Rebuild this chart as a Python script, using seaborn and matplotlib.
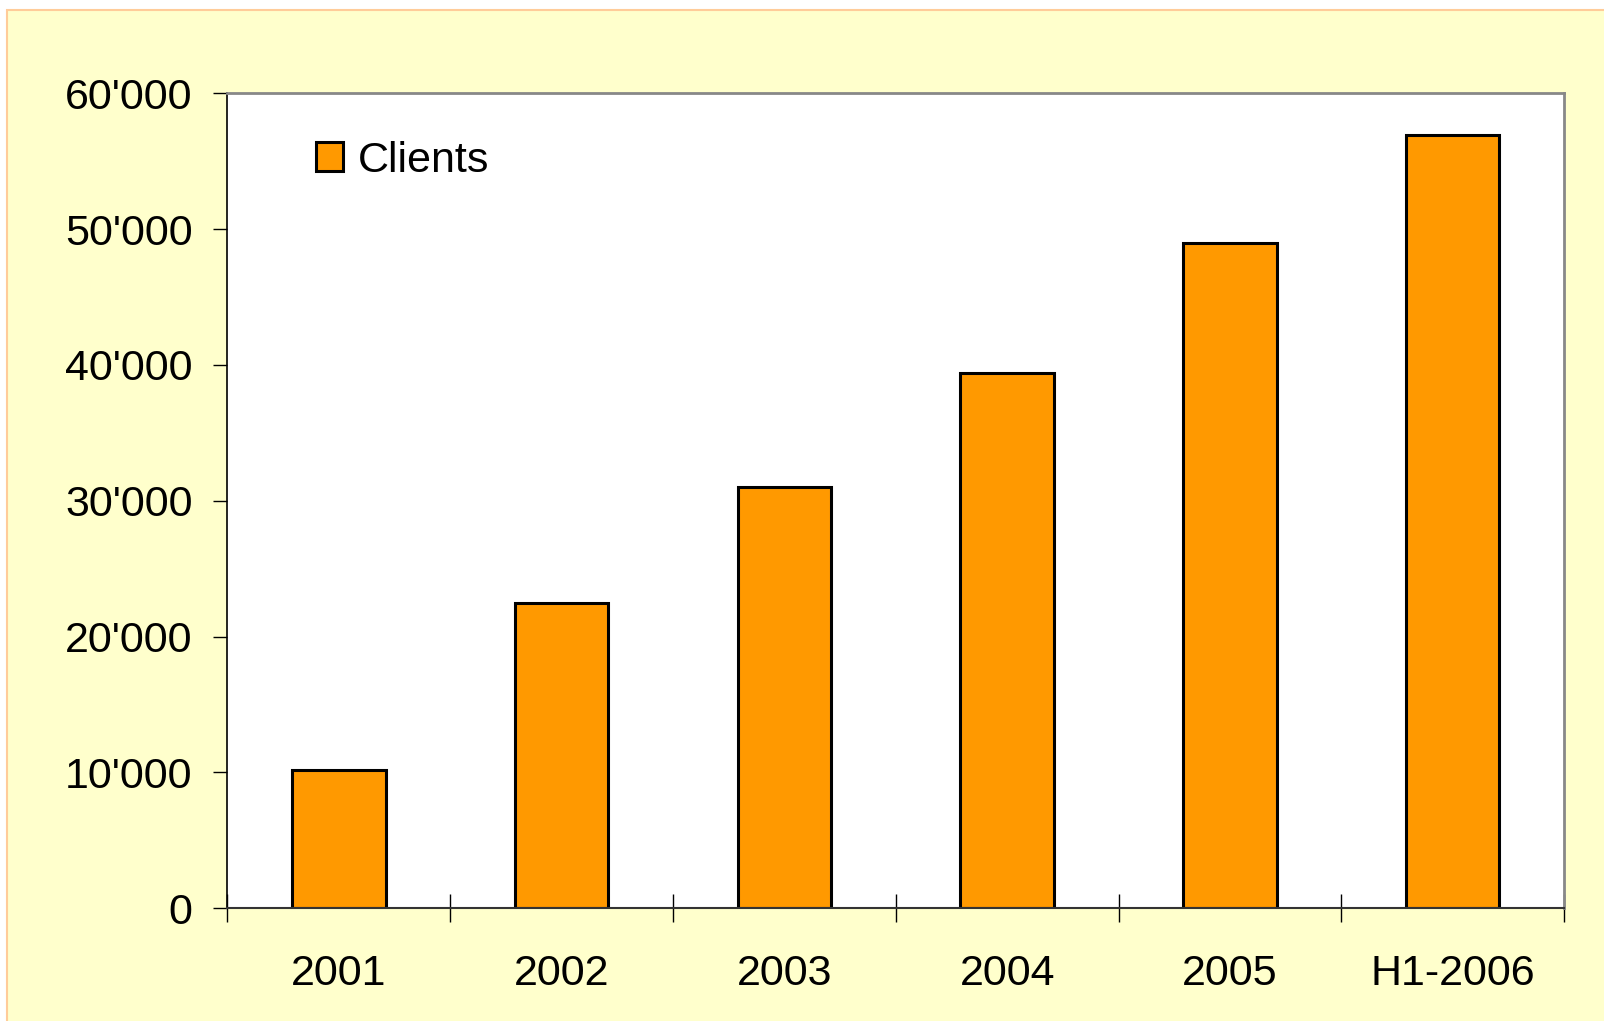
import matplotlib
matplotlib.use("Agg")
import matplotlib.pyplot as plt
from matplotlib.patches import Rectangle
import seaborn as sns
import pandas as pd

# data
categories = ["2001", "2002", "2003", "2004", "2005", "H1-2006"]
clients = [10200, 22500, 31000, 39400, 49000, 56900]
ytick_values = [0, 10000, 20000, 30000, 40000, 50000, 60000]
ytick_labels = ["0", "10'000", "20'000", "30'000", "40'000", "50'000", "60'000"]
series_name = "Clients"

sns.set_style("white")
plt.rcParams["font.family"] = ["Liberation Sans", "DejaVu Sans"]
plt.rcParams["text.color"] = "black"
plt.rcParams["xtick.color"] = "black"
plt.rcParams["ytick.color"] = "black"

df = pd.DataFrame({"annee": categories, "clients": clients})

fig = plt.figure(figsize=(16.04, 10.21), dpi=100, facecolor="white")
# yellow slide background with thin orange frame
fig.patches.append(Rectangle((6.5 / 1604, -0.02), 1.05, 1 - 9.5 / 1021 + 0.02,
                             transform=fig.transFigure, facecolor="#FFFFCC",
                             edgecolor="#FFCC99", linewidth=1.5, zorder=-10))

ax = fig.add_axes([0.1418, 0.1104, 0.8333, 0.7982])
ax.set_facecolor("white")

sns.barplot(data=df, x="annee", y="clients", color="#FF9900", saturation=1,
            edgecolor="black", linewidth=2.2, width=0.42, ax=ax)

ax.set_ylim(0, 60000)
ax.set_xlim(-0.5, len(categories) - 0.5)
ax.set_xlabel("")
ax.set_ylabel("")

ax.set_yticks(ytick_values)
ax.set_yticklabels(ytick_labels)
ax.tick_params(axis="y", direction="out", length=10, width=1, colors="black",
               labelsize=31, pad=15, left=True)

# ticks between categories, labels centered under bars
ax.set_xticks([i - 0.5 for i in range(len(categories) + 1)])
ax.set_xticklabels([])
ax.set_xticks(range(len(categories)), minor=True)
ax.set_xticklabels(categories, minor=True)
ax.tick_params(axis="x", which="major", direction="inout", length=20, width=1,
               colors="black", bottom=True)
ax.tick_params(axis="x", which="minor", length=0, labelsize=31, pad=33,
               labelcolor="black")

for side in ["top", "right"]:
    ax.spines[side].set_color("#888888")
    ax.spines[side].set_linewidth(2)
ax.spines["left"].set_color("black")
ax.spines["left"].set_linewidth(1.2)
ax.spines["bottom"].set_color("#333333")
ax.spines["bottom"].set_linewidth(1.5)

ax.legend([ax.patches[0]], [series_name], loc="center left",
          bbox_to_anchor=(0.0662, 0.9173), frameon=False, fontsize=31,
          borderpad=0, borderaxespad=0, handlelength=0.63, handleheight=0.63,
          handletextpad=0.35, labelcolor="black")

fig.savefig("out.png", dpi=100, facecolor=fig.get_facecolor())
